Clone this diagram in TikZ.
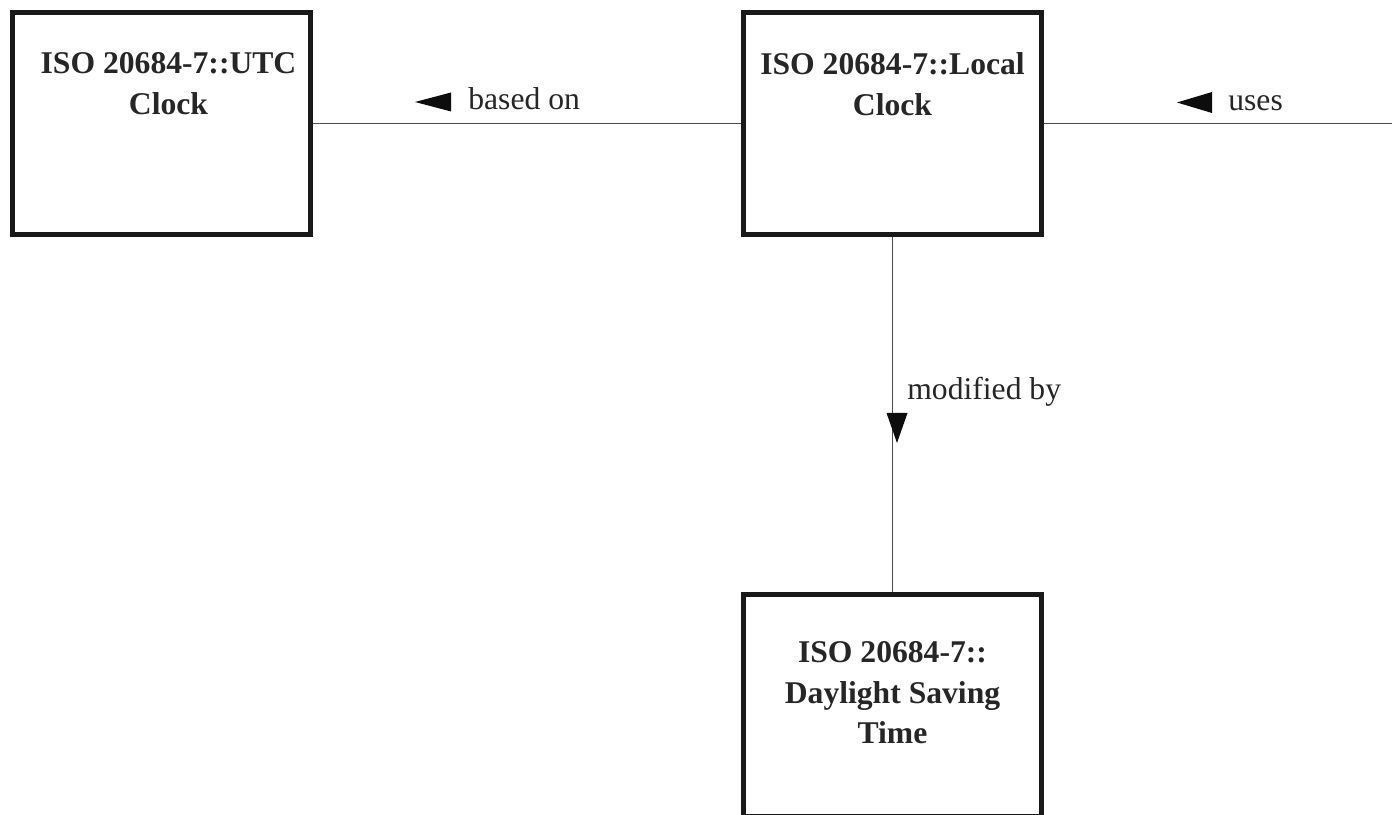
\documentclass[tikz,border=0pt]{standalone}
\usepackage{fontspec}
\setmainfont{Liberation Serif}
\usetikzlibrary{positioning}

\tikzset{
        clsbox/.style={draw=black!90, line width=0.1cm, minimum width=5.96cm,
                       minimum height=4.44cm, inner sep=0pt},
        clsname/.style={font=\fontsize{18}{23.2}\selectfont\bfseries, align=center,
                        inner sep=0pt, text=black!85},
        assoc/.style={draw=black!70, line width=1pt},
        rolename/.style={font=\fontsize{18}{22}\selectfont, inner sep=0pt,
                         anchor=base west, text=black!85},
        dirmark/.style={fill=black!95}
}

\begin{document}
\begin{tikzpicture}
        \useasboundingbox (0,0) rectangle (27.84,16.28);
        \clip (0,0) rectangle (27.84,16.28); % bottom box runs off the page

        % classes
        \node[clsbox] (utc)   at (3.23,13.81) {};
        \node[clsbox] (local) at (17.85,13.81) {};
        \node[clsbox] (dst)   at (17.85,2.17) {};
        \node[clsname, below=0.84cm of utc.north, xshift=0.14cm] (utcname) {ISO 20684-7::UTC\\Clock};
        \node[clsname, below=0.84cm of local.north] (localname) {ISO 20684-7::Local\\Clock};
        \node[clsname, below=0.98cm of dst.north] (dstname) {ISO 20684-7::\\Daylight Saving\\Time};

        % associations
        \coordinate (usesend) at (28,13.81);
        \draw[assoc] (utc.east) -- (local.west);
        \draw[assoc] (local.east) -- (usesend); % other end is off the page
        \draw[assoc] (local.south) -- (dst.north);

        % role names with direction marks
        \coordinate (basedtip) at (8.30,14.24);
        \fill[dirmark] (basedtip) -- ++(0.72,0.19) -- ++(0,-0.38) -- cycle;
        \node[rolename] (basedon) at (9.36,14.08) {based on};

        \coordinate (usestip) at (23.54,14.23);
        \fill[dirmark] (usestip) -- ++(0.70,0.21) -- ++(0,-0.42) -- cycle;
        \node[rolename] (uses) at (24.56,14.06) {uses};

        \coordinate (modtip) at (17.94,7.42);
        \fill[dirmark] (modtip) -- ++(-0.21,0.6) -- ++(0.42,0) -- cycle;
        \node[rolename] (modby) at (18.14,8.28) {modified by};
\end{tikzpicture}
\end{document}
